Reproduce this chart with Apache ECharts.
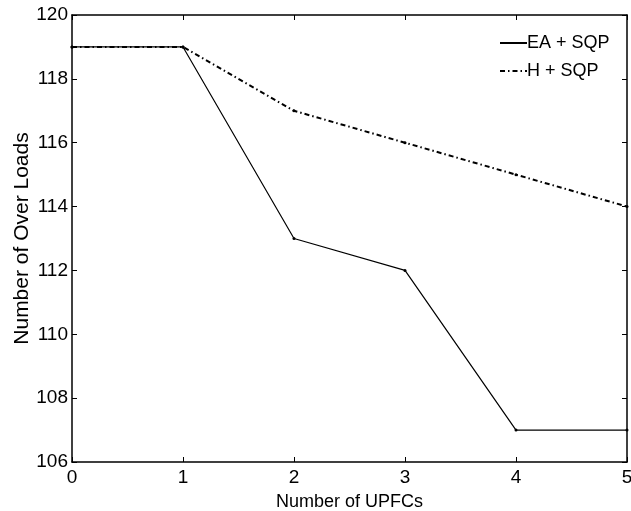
<!DOCTYPE html>
<html>
<head>
<meta charset="utf-8">
<script src="https://cdn.jsdelivr.net/npm/echarts@6/dist/echarts.min.js"></script>
<style>
html,body{margin:0;padding:0;background:#fff;}
#chart{width:631px;height:511px;}
</style>
</head>
<body>
<div id="chart"></div>
<script>
// Number of UPFCs installed vs. resulting overloads
const upfcCounts = [0, 1, 2, 3, 4, 5];
const eaSqp = [119, 119, 113, 112, 107, 107];
const hSqp = [119, 119, 117, 116, 115, 114];
const seriesNames = ['EA + SQP', 'H + SQP'];

const font = '"Liberation Sans", Arial, sans-serif';
const chart = echarts.init(document.getElementById('chart'), null, { renderer: 'canvas' });

const tickStyle = { inside: true, length: 5, lineStyle: { color: '#000', width: 1 } };
const axisLine = { show: true, onZero: false, lineStyle: { color: '#000', width: 1.5 } };

chart.setOption({
  animation: false,
  backgroundColor: '#fff',
  grid: { left: 72, right: 4, top: 15, bottom: 49, show: false, containLabel: false, outerBoundsMode: 'none' },
  legend: {
    left: 494, top: 29, orient: 'vertical', itemWidth: 27, itemHeight: 12, itemGap: 10,
    textStyle: { fontFamily: font, fontSize: 18, color: '#000', padding: [0, 0, 0, -5] },
    itemStyle: { opacity: 0 },
    data: seriesNames
  },
  xAxis: [
    {
      type: 'value', min: 0, max: 5, interval: 1,
      name: 'Number of UPFCs', nameLocation: 'middle', nameGap: 31,
      nameTextStyle: { fontFamily: font, fontSize: 18, color: '#000' },
      axisLine, axisTick: tickStyle, splitLine: { show: false },
      axisLabel: { fontFamily: font, fontSize: 19, color: '#000', margin: 6 }
    },
    {
      type: 'value', position: 'top', min: 0, max: 5, interval: 1,
      axisLine, axisTick: tickStyle, splitLine: { show: false }, axisLabel: { show: false }
    }
  ],
  yAxis: [
    {
      type: 'value', min: 106, max: 120, interval: 2,
      name: 'Number of Over Loads', nameLocation: 'middle', nameGap: 39,
      nameMoveOverlap: false,
      nameTextStyle: { fontFamily: font, fontSize: 21, color: '#000' },
      axisLine, axisTick: tickStyle, splitLine: { show: false },
      axisLabel: { fontFamily: font, fontSize: 19, color: '#000', margin: 4 }
    },
    {
      type: 'value', position: 'right', min: 106, max: 120, interval: 2,
      axisLine, axisTick: tickStyle, splitLine: { show: false }, axisLabel: { show: false }
    }
  ],
  series: [
    {
      name: seriesNames[0], type: 'line',
      data: upfcCounts.map((x, i) => [x, eaSqp[i]]),
      symbol: 'circle', symbolSize: 3, showSymbol: true,
      lineStyle: { color: '#000', width: 1.2 },
      itemStyle: { color: '#000' }
    },
    {
      name: seriesNames[1], type: 'line',
      data: upfcCounts.map((x, i) => [x, hSqp[i]]),
      symbol: 'circle', symbolSize: 3, showSymbol: true,
      lineStyle: { color: '#000', width: 2, type: [5, 3, 1.5, 3] },
      itemStyle: { color: '#000' }
    }
  ]
});
</script>
</body>
</html>
